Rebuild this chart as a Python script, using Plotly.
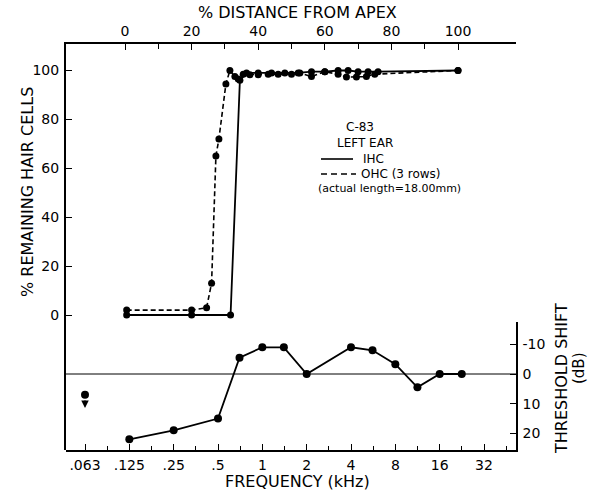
import math
import plotly.graph_objects as go

# ---------------- data ----------------
# bottom panel: threshold shift vs frequency
freq_khz = [0.125, 0.25, 0.5, 0.7, 1.0, 1.4, 2.0, 4.0, 5.6, 8.0, 11.3, 16.0, 22.6]
shift_db = [22, 19, 15, -5.5, -9, -9, 0, -9, -8, -3.3, 4.5, 0, 0]
low_freq = [0.0625]
low_shift = [7]

# top panel: % remaining hair cells vs % distance from apex
ihc_dist = [0.5, 20, 31.7, 34.5, 36.5, 40, 44, 48, 52, 56, 60, 64, 67, 70, 73, 76, 100]
ihc_pct = [0, 0, 0, 96, 99, 99, 99, 99, 99, 99.5, 99.5, 100, 100, 99.5, 99.5, 99.5, 100]
ohc_dist = [0.5, 20, 24.5, 26, 27.3, 28.2, 30.3, 31.5, 33, 34, 35.5, 37.5, 40, 43, 46,
            50, 52.5, 56, 60, 64, 66.5, 69.5, 72.5, 75, 100]
ohc_pct = [2, 2, 3, 13, 65, 72, 94.5, 100, 97.5, 96.5, 98.5, 98.3, 98.3, 98.5, 98.5,
           98.5, 99, 97.5, 99.5, 98.5, 97.3, 97.3, 97.5, 98.5, 100]

freq_ticks = [0.0625, 0.125, 0.25, 0.5, 1, 2, 4, 8, 16, 32]
freq_labels = [".063", ".125", ".25", ".5", "1", "2", "4", "8", "16", "32"]
freq_minor = [0.0884, 0.177, 0.354, 0.707, 1.414, 2.83, 5.66, 11.31, 22.63, 45.25]
dist_ticks = [0, 20, 40, 60, 80, 100]
dist_minor = [10, 30, 50, 70, 90]
pct_ticks = [0, 20, 40, 60, 80, 100]
db_ticks = [-10, 0, 10, 20]
db_labels = ["-10", "0", "10", "20"]

# ---------------- geometry ----------------
W, H = 594, 491
L, R, T, B = 66, 516, 44, 450
FONT = "DejaVu Sans"

def px(xp):
    return (xp - L) / (R - L)

def py(yp):
    return (B - yp) / (B - T)

fig = go.Figure()

# top panel traces
fig.add_trace(go.Scatter(x=ohc_dist, y=ohc_pct, xaxis="x2", yaxis="y", mode="lines+markers",
                         line=dict(color="black", width=1.6, dash="5px,3px"),
                         marker=dict(color="black", size=7), showlegend=False))
fig.add_trace(go.Scatter(x=ihc_dist, y=ihc_pct, xaxis="x2", yaxis="y", mode="lines+markers",
                         line=dict(color="black", width=1.8),
                         marker=dict(color="black", size=7), showlegend=False))

# bottom panel traces
fig.add_trace(go.Scatter(x=freq_khz, y=shift_db, xaxis="x", yaxis="y2", mode="lines+markers",
                         line=dict(color="black", width=1.8),
                         marker=dict(color="black", size=8), showlegend=False))
fig.add_trace(go.Scatter(x=low_freq, y=low_shift, xaxis="x", yaxis="y2", mode="markers",
                         marker=dict(color="black", size=8), showlegend=False))

# frequency axis (log) range from pixel geometry
oct_px = (484 - 85) / 9.0
lo = -4 + (L - 85) / oct_px
hi = -4 + (R - 85) / oct_px
d_px = (458 - 125) / 100.0
dlo = (L - 125) / d_px
dhi = (R - 125) / d_px
p_px = (315 - 70.5) / 100.0
plo = -(B - 315) / p_px
phi = 100 + (70.5 - T) / p_px

y2_top = 322
db_px = (433 - 344) / 30.0
dbmax = (B - 374) / db_px
dbmin = -(374 - y2_top) / db_px

tickfont = dict(family=FONT, size=14, color="black")

fig.update_layout(
    width=W, height=H,
    margin=dict(l=L, r=W - R, t=T, b=H - B, pad=0),
    paper_bgcolor="white", plot_bgcolor="rgba(0,0,0,0)",
    font=dict(family=FONT, color="black"),
    xaxis=dict(type="log", range=[lo * math.log10(2), hi * math.log10(2)],
               domain=[0, 1], anchor="y", side="bottom",
               tickmode="array", tickvals=freq_ticks, ticktext=freq_labels,
               ticks="inside", ticklen=6, tickwidth=1.3, tickcolor="black",
               minor=dict(tickmode="array", tickvals=freq_minor, ticks="inside",
                          ticklen=4, tickwidth=1.2, tickcolor="black"),
               showline=True, linecolor="black", linewidth=1.5,
               showgrid=False, zeroline=False, tickfont=tickfont, ticklabelstandoff=1),
    xaxis2=dict(range=[dlo, dhi], overlaying="x", anchor="y", side="top",
                tickmode="array", tickvals=dist_ticks,
                ticks="inside", ticklen=6, tickwidth=1.3, tickcolor="black",
                minor=dict(tickmode="array", tickvals=dist_minor, ticks="inside",
                           ticklen=5, tickwidth=1.2, tickcolor="black"),
                showline=True, linecolor="black", linewidth=1.5,
                showgrid=False, zeroline=False, tickfont=tickfont, ticklabelstandoff=1),
    yaxis=dict(range=[plo, phi], domain=[0, 1], anchor="x", side="left",
               tickmode="array", tickvals=pct_ticks,
               ticks="inside", ticklen=6, tickwidth=1.3, tickcolor="black",
               showline=True, linecolor="black", linewidth=2,
               showgrid=False, zeroline=False, tickfont=tickfont, ticklabelstandoff=2),
    yaxis2=dict(range=[dbmax, dbmin], domain=[0, py(y2_top)], anchor="x", side="right",
                tickmode="array", tickvals=db_ticks, ticktext=db_labels,
                ticks="inside", ticklen=6, tickwidth=1.3, tickcolor="black",
                showline=True, linecolor="black", linewidth=1.5,
                showgrid=False, zeroline=False, tickfont=tickfont, ticklabelstandoff=2),
)

# zero dB reference line
fig.add_shape(type="line", xref="paper", yref="y2", x0=0, x1=1, y0=0, y1=0,
              line=dict(color="black", width=1), layer="below")

# down arrow under the .063 point
fig.add_annotation(x=math.log10(low_freq[0]), y=11.5, xref="x", yref="y2",
                   ax=0, ay=-9, showarrow=True, arrowhead=2, arrowsize=1,
                   arrowwidth=1.5, arrowcolor="black", text="")

def label(xp, yp, text, size=16, angle=0, xanchor="center"):
    fig.add_annotation(x=px(xp), y=py(yp), xref="paper", yref="paper", showarrow=False,
                       xanchor=xanchor, yanchor="middle", text=text, textangle=angle,
                       font=dict(family=FONT, size=size, color="black"))

# axis titles
label(297, 13, "% DISTANCE FROM APEX")
label(297, 482, "FREQUENCY (kHz)")
label(27, 192, "% REMAINING HAIR CELLS", angle=-90)
label(561, 379, "THRESHOLD SHIFT", angle=-90)
label(579, 368, "(dB)", size=15, angle=-90)

# legend block
label(360, 127, "C-83", size=12)
label(365, 143, "LEFT EAR", size=12)
label(361, 159, "IHC", size=12, xanchor="left")
label(359, 174, "OHC (3 rows)", size=12, xanchor="left")
label(389, 189, "(actual length=18.00mm)", size=11)
fig.add_shape(type="line", xref="paper", yref="paper", x0=px(321), x1=px(353),
              y0=py(159), y1=py(159), line=dict(color="black", width=1.6))
fig.add_shape(type="line", xref="paper", yref="paper", x0=px(321), x1=px(356),
              y0=py(174), y1=py(174), line=dict(color="black", width=1.6, dash="6px,4px"))

fig.write_html("out.html")
